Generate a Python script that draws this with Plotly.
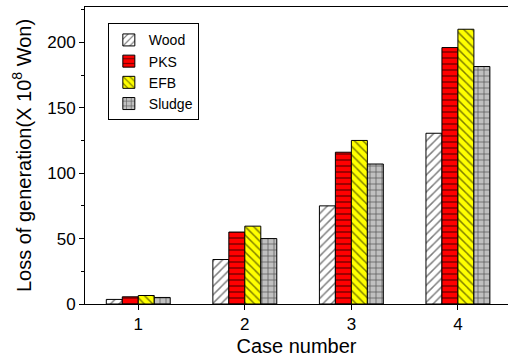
import plotly.graph_objects as go

cases = [1, 2, 3, 4]
wood = [3.5, 34, 75, 130.5]
pks = [5.5, 55, 116, 196]
efb = [6.5, 59.5, 125, 210]
sludge = [5, 50, 107, 181.5]

series = [
    ("Wood", wood, "white", "/"),
    ("PKS", pks, "#ff0000", "-"),
    ("EFB", efb, "#ffff00", "\\"),
    ("Sludge", sludge, "#c0c0c0", "+"),
]

fig = go.Figure()
for name, vals, col, shape in series:
    fig.add_trace(go.Bar(
        x=cases, y=vals, name=name,
        marker=dict(color=col, line=dict(color="black", width=1),
                    pattern=dict(shape=shape, fgcolor="black", size=6, solidity=0.25)),
    ))

font = "Liberation Sans, Arial, sans-serif"
fig.update_layout(
    width=508, height=363,
    margin=dict(l=85, r=0, t=7, b=59, autoexpand=False),
    plot_bgcolor="white", paper_bgcolor="white",
    barmode="group", bargap=0.4, bargroupgap=0,
    font=dict(family=font, size=17, color="black"),
    showlegend=True,
    legend=dict(x=0.054, y=0.945, xanchor="left", yanchor="top",
                bordercolor="black", borderwidth=1, bgcolor="white",
                font=dict(size=14), tracegroupgap=0, itemwidth=30),
    xaxis=dict(range=[0.5, 4.47], tickvals=cases, ticktext=[str(c) for c in cases],
               showline=True, linecolor="black", linewidth=1, mirror=True,
               ticks="outside", ticklen=5, tickcolor="black", showgrid=False,
               zeroline=False, automargin=False,
               title=dict(text="Case number", font=dict(size=20), standoff=5)),
    yaxis=dict(range=[0, 227], tickmode="linear", tick0=0, dtick=50,
               showline=True, linecolor="black", linewidth=1,
               ticks="outside", ticklen=5, tickcolor="black", showgrid=False,
               zeroline=False, automargin=False,
               minor=dict(dtick=25, tick0=0, ticks="outside", ticklen=3, tickcolor="black", showgrid=False),
               title=dict(text="Loss of generation(X 10<sup>8</sup> Won)", font=dict(size=20), standoff=10)),
)

fig.write_html("out.html", config={"displayModeBar": False},
               post_script="document.documentElement.style.overflow='hidden';document.body.style.margin='0';document.body.style.padding='0';")
